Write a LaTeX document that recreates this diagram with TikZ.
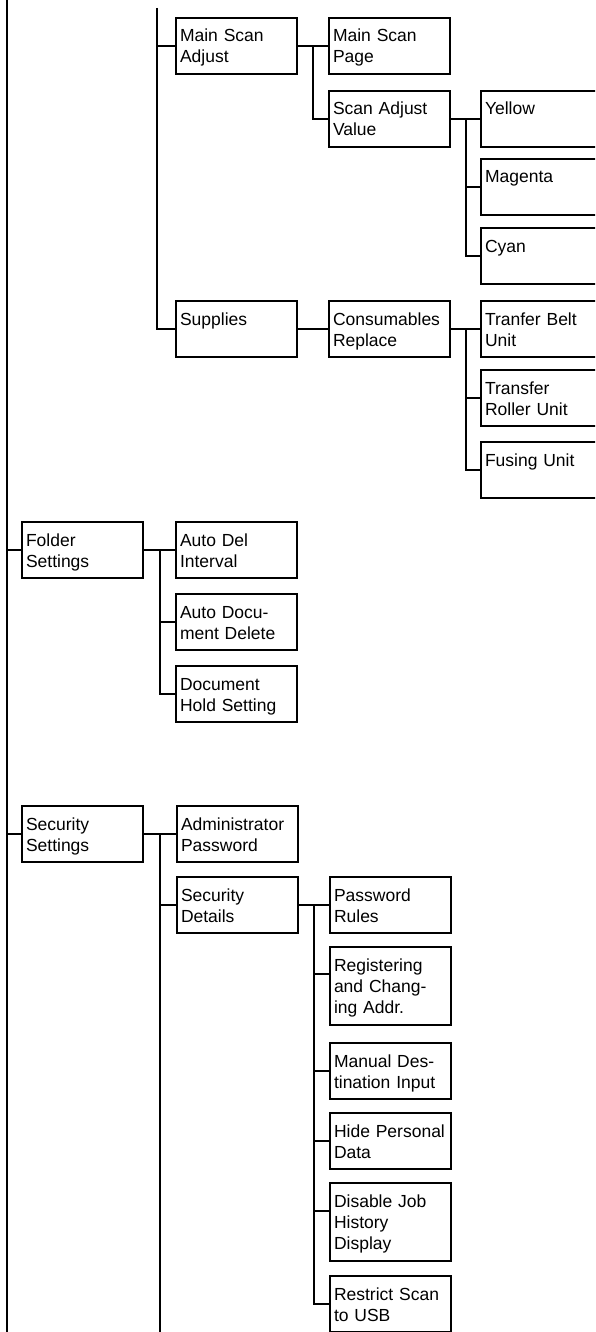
\documentclass[tikz,border=0pt]{standalone}
\usepackage{fontspec}
\setmainfont{Liberation Sans}
\usetikzlibrary{positioning,calc}
\tikzset{
  menu/.style={rectangle,draw=black,line width=2pt,text width=113pt,inner xsep=4pt,inner ysep=0pt,text height=24pt,text depth=32pt,align=left,font=\fontsize{17.5}{21}\selectfont},
  tallmenu/.style={menu,text depth=54pt},
  link/.style={line width=2pt,draw=black}
}
\begin{document}
\begin{tikzpicture}[x=1pt,y=-1pt,node distance=12pt and 30pt]
  \useasboundingbox (0,0) rectangle (595,1332);
  \clip (0,0) rectangle (595,1332);
  % main scan adjust
  \node[menu,anchor=north west] (msa) at (175,17) {Main Scan\\Adjust};
  \node[menu,right=of msa] (msp) {Main Scan\\Page};
  \node[menu,below=15pt of msp] (sav) {Scan Adjust\\Value};
  \node[menu,right=29pt of sav] (yel) {Yellow};
  \node[menu,below=10pt of yel] (mag) {Magenta};
  \node[menu,below=11pt of mag] (cya) {Cyan};
  % supplies
  \node[menu,anchor=north west] (sup) at (175,300) {Supplies};
  \node[menu,right=of sup] (cons) {Consumables\\Replace};
  \node[menu,right=29pt of cons] (belt) {Tranfer Belt\\Unit};
  \node[menu,below=11pt of belt] (roll) {Transfer\\Roller Unit};
  \node[menu,below=14pt of roll] (fus) {Fusing Unit};
  % folder settings
  \node[menu,anchor=north west] (fold) at (21,521) {Folder\\Settings};
  \node[menu,right=31pt of fold] (adi) {Auto Del\\Interval};
  \node[menu,below=14pt of adi] (add) {Auto Docu-\\ment Delete};
  \node[menu,below=14pt of add] (dhs) {Document\\Hold Setting};
  % security settings
  \node[menu,anchor=north west] (sec) at (21,805) {Security\\Settings};
  \node[menu,right=32pt of sec] (adm) {Administrator\\Password};
  \node[menu,below=13pt of adm] (sdet) {Security\\Details};
  \node[menu,right=of sdet] (prul) {Password\\Rules};
  \node[tallmenu,below=of prul] (reg) {Registering\\and Chang-\\ing Addr.};
  \node[menu,below=16pt of reg] (man) {Manual Des-\\tination Input};
  \node[menu,below=of man] (hide) {Hide Personal\\Data};
  \node[tallmenu,below=of hide] (djh) {Disable Job\\History\\Display};
  \node[menu,below=13pt of djh] (rsu) {Restrict Scan\\to USB};
  % rails
  \coordinate (rail0) at (7,0);
  \coordinate (rail0end) at (7,1332);
  \coordinate (rail1) at (157,8);
  \coordinate (mr) at ($(msa.east)!.5!(msp.west)$);
  \coordinate (vr) at ($(sav.east)!.5!(yel.west)$);
  \coordinate (cr) at ($(cons.east)!.5!(belt.west)$);
  \coordinate (fr) at ($(fold.east)!.5!(adi.west)$);
  \coordinate (sr) at ($(sec.east)!.5!(adm.west)$);
  \coordinate (dr) at ($(sdet.east)!.5!(prul.west)$);
  \draw[link] (rail0) -- (rail0end);
  \draw[link] (rail0 |- fold.west) -- (fold.west);
  \draw[link] (rail0 |- sec.west) -- (sec.west);
  \draw[link] (rail1) |- (sup.west);
  \draw[link] (rail1 |- msa.west) -- (msa.west);
  \draw[link] (msa.east) -- (msp.west);
  \draw[link] (mr) |- (sav.west);
  \draw[link] (sav.east) -- (yel.west);
  \draw[link] (vr) |- (mag.west);
  \draw[link] (vr) |- (cya.west);
  \draw[link] (sup.east) -- (cons.west);
  \draw[link] (cons.east) -- (belt.west);
  \draw[link] (cr) |- (roll.west);
  \draw[link] (cr) |- (fus.west);
  \draw[link] (fold.east) -- (adi.west);
  \draw[link] (fr) |- (add.west);
  \draw[link] (fr) |- (dhs.west);
  \draw[link] (sec.east) -- (adm.west);
  \draw[link] (sr) -- (sr |- rail0end);
  \draw[link] (sr) |- (sdet.west);
  \draw[link] (sdet.east) -- (prul.west);
  \draw[link] (dr) |- ($(reg.north west)+(0,28)$);
  \draw[link] (dr) |- (man.west);
  \draw[link] (dr) |- (hide.west);
  \draw[link] (dr) |- ($(djh.north west)+(0,29)$);
  \draw[link] (dr) |- (rsu.west);
\end{tikzpicture}
\end{document}
